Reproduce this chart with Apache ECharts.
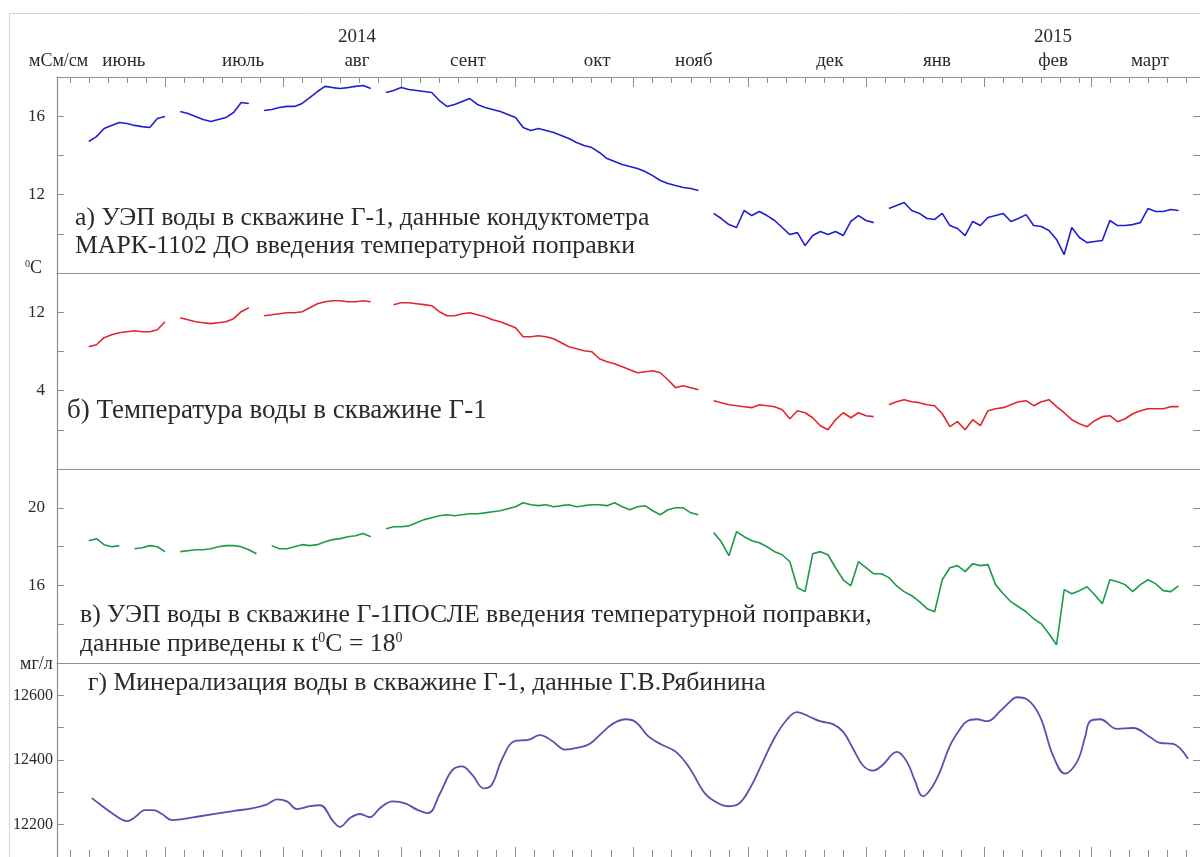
<!DOCTYPE html>
<html>
<head>
<meta charset="utf-8">
<title>Скважина Г-1</title>
<style>
  html, body { margin: 0; padding: 0; background: #fff; }
  #chart { width: 1200px; height: 857px; }
</style>
<script src="https://cdn.jsdelivr.net/npm/echarts@6/dist/echarts.min.js"></script>
</head>
<body>
<div id="chart"></div>
<script>
// x = days since 1 June 2014
const days = [10,12,14,16,18,20,22,24,26,28,30,32,34,36,38,40,42,44,46,48,50,52,54,56,58,60,62,64,66,68,70,72,74,76,78,80,82,84,86,88,90,92,94,96,98,100,102,104,106,108,110,112,114,116,118,120,122,124,126,128,130,132,134,136,138,140,142,144,146,148,150,152,154,156,158,160,162,164,166,168,170,172,174,176,178,180,182,184,186,188,190,192,194,196,198,200,202,204,206,208,210,212,214,216,218,220,222,224,226,228,230,232,234,236,238,240,242,244,246,248,250,252,254,256,258,260,262,264,266,268,270,272,274,276,278,280,282,284,286,288,290,292,294,296];

// а) УЭП, мСм/см (before temperature correction)
const conductivityRaw = [14.71,14.96,15.37,15.53,15.68,15.63,15.53,15.47,15.42,15.88,15.98,null,16.24,16.14,15.98,15.83,15.73,15.83,15.93,16.19,16.70,16.65,null,16.29,16.34,16.44,16.50,16.50,16.65,16.95,17.26,17.52,17.46,17.41,17.46,17.52,17.57,17.41,null,17.21,17.31,17.46,17.36,17.31,17.26,17.21,16.80,16.50,16.60,16.75,16.90,16.60,16.44,16.34,16.24,16.09,15.93,15.42,15.27,15.37,15.27,15.17,15.02,14.86,14.66,14.51,14.40,14.15,13.84,13.69,13.54,13.43,13.33,13.18,12.97,12.72,12.57,12.46,12.36,12.31,12.21,null,11.04,10.78,10.47,10.32,11.19,10.93,11.14,10.93,10.68,10.32,9.96,10.06,9.40,9.91,10.12,9.96,10.12,9.91,10.63,10.93,10.68,10.57,null,11.29,11.44,11.60,11.19,11.04,10.78,10.73,11.04,10.42,10.27,9.91,10.63,10.42,10.83,10.93,11.04,10.63,10.78,10.98,10.42,10.37,10.17,9.71,8.94,10.32,9.81,9.55,9.61,9.66,10.68,10.42,10.42,10.47,10.57,11.29,11.14,11.14,11.24,11.19];

// б) temperature, °C
const temperature = [8.48,8.68,9.40,9.70,9.91,10.01,10.11,10.01,10.01,10.21,11.03,null,11.44,11.23,11.03,10.93,10.83,10.93,11.03,11.34,12.05,12.46,null,11.64,11.74,11.85,11.95,11.95,12.05,12.46,12.87,13.07,13.17,13.17,13.07,13.07,13.17,13.07,null,null,12.77,12.97,12.97,12.87,12.77,12.66,12.05,11.64,11.64,11.85,11.95,11.74,11.54,11.23,11.03,10.72,10.42,9.50,9.50,9.60,9.50,9.29,8.89,8.48,8.27,8.07,7.97,7.25,6.95,6.74,6.44,6.13,5.82,5.93,6.03,5.82,5.11,4.30,4.50,4.30,4.09,null,2.97,2.77,2.56,2.46,2.36,2.26,2.56,2.46,2.36,2.05,1.13,1.95,1.74,1.23,0.42,0.01,1.03,1.74,1.23,1.74,1.44,1.34,null,2.56,2.87,3.07,2.87,2.77,2.56,2.46,1.64,0.32,0.83,0.01,1.03,0.42,1.95,2.15,2.26,2.56,2.87,2.97,2.46,2.87,3.07,2.36,1.74,1.03,0.62,0.32,0.93,1.34,1.44,0.83,1.13,1.64,1.95,2.15,2.15,2.15,2.36,2.36];

// в) УЭП reduced to 18 °C
const conductivity18 = [18.30,18.41,18.10,17.99,18.05,null,17.89,17.94,18.05,17.99,17.74,null,17.74,17.79,17.84,17.84,17.89,17.99,18.05,18.05,17.99,17.84,17.63,null,18.05,17.89,17.89,17.99,18.10,18.05,18.10,18.25,18.36,18.41,18.51,18.56,18.67,18.51,null,18.92,19.02,19.02,19.07,19.23,19.39,19.49,19.59,19.64,19.59,19.64,19.69,19.69,19.74,19.80,19.85,19.95,20.05,20.26,20.16,20.11,20.16,20.05,20.11,20.16,20.05,20.11,20.16,20.16,20.11,20.26,20.05,19.90,20.05,20.11,19.85,19.64,19.90,20.00,20.00,19.74,19.64,null,18.72,18.25,17.53,18.77,18.51,18.30,18.20,17.99,17.74,17.58,17.22,15.88,15.68,17.63,17.74,17.58,16.91,16.29,15.98,17.22,16.91,16.60,16.60,16.40,15.98,15.68,15.47,15.16,14.80,14.64,16.29,16.91,17.02,16.71,17.12,17.02,17.07,16.04,15.57,15.16,14.90,14.64,14.28,14.02,13.51,12.94,15.78,15.57,15.73,15.93,15.52,15.06,16.29,16.19,16.04,15.68,16.04,16.29,16.09,15.73,15.68,15.98];

// г) mineralisation, мг/л
const mineralDays = [10.8,12.9,16.4,20.0,22.1,24.8,26.9,29.2,31.8,34.5,39.2,47.8,53.1,56.8,59.4,62.0,64.6,68.1,70.7,74.1,75.9,78.5,81.2,83.8,86.4,89.8,93.0,96.4,99.0,102.2,105.3,107.9,110.6,113.7,115.8,118.5,121.9,125.3,128.4,131.6,135.0,138.4,141.5,144.7,147.8,151.0,153.6,156.8,160.4,164.1,167.8,171.7,175.7,177.8,180.4,183.5,186.7,190.1,193.3,195.9,199.3,201.9,205.3,208.0,210.6,213.2,215.8,218.2,222.1,224.7,226.8,228.9,231.1,233.4,236.0,238.7,240.5,243.1,245.8,249.2,251.3,253.6,256.2,259.6,263.1,266.2,269.4,271.5,272.8,275.4,279.9,284.1,288.5,291.1,294.6,296.5,298.5];
const mineral = [12282,12263,12233,12211,12223,12245,12245,12233,12214,12217,12226,12242,12251,12263,12278,12272,12248,12257,12260,12211,12193,12220,12233,12223,12251,12272,12266,12245,12236,12297,12367,12380,12355,12312,12324,12404,12459,12462,12477,12459,12432,12438,12450,12484,12514,12526,12517,12474,12447,12425,12373,12297,12263,12257,12263,12312,12389,12471,12526,12548,12533,12520,12511,12487,12435,12383,12367,12383,12425,12395,12337,12288,12312,12364,12444,12496,12520,12526,12520,12551,12575,12594,12588,12536,12413,12358,12395,12471,12520,12526,12496,12499,12471,12453,12450,12435,12404];

// time axis: month starts (major ticks), 5-day ticks, labels
const monthStarts = [30, 61, 92, 122, 153, 183, 214, 245, 273];
const fiveDayTicks = [5,10,15,20,25, 35,40,45,50,55, 66,71,76,81,86, 97,102,107,112,117, 127,132,137,142,147, 158,163,168,173,178, 188,193,198,203,208, 219,224,229,234,239, 250,255,260,265,270, 278,283,288,293,298];
const monthLabelDays = [19.2, 50.5, 80.4, 109.5, 143.4, 168.8, 204.5, 232.6, 263.1, 288.5];
const monthNames = ['июнь', 'июль', 'авг', 'сент', 'окт', 'нояб', 'дек', 'янв', 'фев', 'март'];
const yearNames = ['', '', '2014', '', '', '', '', '', '2015', ''];

const FONT = '"Liberation Serif", "Times New Roman", serif';
const GRAY = '#8e8e8e';
const INK = '#2a2a2a';
const X_MIN = 1.65;
const X_MAX = 301.65;

const panels = [
    { top: 77,  height: 196, min: 8,     max: 18,    ticks: [10, 12, 14, 16], labels: [12, 16], fontSize: 17, margin: 12,
      color: '#1f1fcf', data: days.map((d, i) => [d, conductivityRaw[i]]) },
    { top: 273, height: 196, min: -4,    max: 16,    ticks: [0, 4, 8, 12],    labels: [4, 12],  fontSize: 17, margin: 12,
      color: '#e2262d', data: days.map((d, i) => [d, temperature[i]]) },
    { top: 469, height: 194, min: 12,    max: 22,    ticks: [14, 16, 18, 20], labels: [16, 20], fontSize: 17, margin: 12,
      color: '#1c9a48', data: days.map((d, i) => [d, conductivity18[i]]) },
    { top: 663, height: 196, min: 12100, max: 12700, ticks: [12200, 12300, 12400, 12500, 12600], labels: [12200, 12400, 12600], fontSize: 16, margin: 4,
      color: '#5a4fb0', data: mineralDays.map((d, i) => [d, mineral[i]]), smooth: true }
];

function nearestIndex(arr, v) {
    let best = 0;
    arr.forEach((a, i) => { if (Math.abs(a - v) < Math.abs(arr[best] - v)) best = i; });
    return best;
}

function xAxisBase(gridIndex, position) {
    return {
        type: 'value', gridIndex: gridIndex, position: position, min: X_MIN, max: X_MAX,
        axisLine: { show: false, onZero: false, lineStyle: { color: GRAY, width: 1.2 } },
        axisTick: { show: false },
        axisLabel: { show: false },
        splitLine: { show: false }
    };
}

function buildXAxes() {
    const top = xAxisBase(0, 'top');
    top.axisLine.show = true;
    top.axisTick = { show: true, inside: true, length: 10, customValues: monthStarts, lineStyle: { color: GRAY } };
    top.axisLabel = {
        show: true,
        margin: 5,
        customValues: monthLabelDays,
        formatter: (v) => {
            const i = nearestIndex(monthLabelDays, v);
            const month = '{m|' + monthNames[i] + '}';
            return yearNames[i] ? '{y|' + yearNames[i] + '}\n' + month : month;
        },
        rich: {
            m: { fontFamily: FONT, fontSize: 19, color: INK, lineHeight: 22 },
            y: { fontFamily: FONT, fontSize: 19, color: INK, lineHeight: 26 }
        }
    };

    const topMinor = xAxisBase(0, 'top');
    topMinor.axisTick = { show: true, inside: true, length: 6, customValues: fiveDayTicks, lineStyle: { color: GRAY } };

    // separators between the panels
    const separators = [0, 1, 2].map(g => {
        const ax = xAxisBase(g, 'bottom');
        ax.axisLine.show = true;
        return ax;
    });

    const bottom = xAxisBase(3, 'bottom');
    bottom.axisTick = { show: true, inside: true, length: 10, customValues: monthStarts, lineStyle: { color: GRAY } };
    const bottomMinor = xAxisBase(3, 'bottom');
    bottomMinor.axisTick = { show: true, inside: true, length: 7, customValues: fiveDayTicks, lineStyle: { color: GRAY } };

    return [top, topMinor].concat(separators, [bottom, bottomMinor]);
}

function buildYAxes() {
    const axes = [];
    panels.forEach((p, g) => {
        axes.push({
            type: 'value', gridIndex: g, position: 'left', min: p.min, max: p.max,
            axisLine: { show: true, onZero: false, lineStyle: { color: GRAY, width: 1.2 } },
            axisTick: { show: true, inside: true, length: 7, customValues: p.ticks, lineStyle: { color: GRAY } },
            axisLabel: { customValues: p.labels, formatter: (v) => String(v), fontFamily: FONT, fontSize: p.fontSize, color: INK, margin: p.margin },
            splitLine: { show: false }
        });
        axes.push({
            type: 'value', gridIndex: g, position: 'right', min: p.min, max: p.max,
            axisLine: { show: false, onZero: false },
            axisTick: { show: true, inside: true, length: 7, customValues: p.ticks, lineStyle: { color: GRAY } },
            axisLabel: { show: false },
            splitLine: { show: false }
        });
    });
    return axes;
}

// plain text block; {s|..} marks a small raised degree sign
function text(x, y, str, size) {
    return {
        type: 'text', x: x, y: y, silent: true,
        style: {
            text: str, fill: INK, font: size + 'px ' + FONT, verticalAlign: 'middle',
            rich: { s: { fontFamily: FONT, fontSize: Math.round(size * 0.55), fill: INK, verticalAlign: 'top', lineHeight: size } }
        }
    };
}

const chart = echarts.init(document.getElementById('chart'), null, { renderer: 'canvas' });

chart.setOption({
    animation: false,
    backgroundColor: '#ffffff',
    grid: panels.map(p => ({ left: 57, right: 0, top: p.top, height: p.height })),
    xAxis: buildXAxes(),
    yAxis: buildYAxes(),
    series: panels.map((p, g) => ({
        type: 'line',
        xAxisIndex: [2, 3, 4, 5][g],
        yAxisIndex: g * 2,
        data: p.data.map(pt => [pt[0], pt[1] === null ? '-' : pt[1]]),
        showSymbol: false,
        connectNulls: false,
        smooth: p.smooth ? 0.4 : false,
        lineStyle: { color: p.color, width: p.smooth ? 1.8 : 1.6 },
        silent: true
    })),
    graphic: [
        { type: 'line', silent: true, shape: { x1: 9.5, y1: 13.5, x2: 1200, y2: 13.5 }, style: { stroke: '#d4d4d4', lineWidth: 1 } },
        { type: 'line', silent: true, shape: { x1: 9.5, y1: 13.5, x2: 9.5, y2: 857 }, style: { stroke: '#d4d4d4', lineWidth: 1 } },
        text(29, 61, 'мСм/см', 18),
        text(25, 268, '{s|0}C', 18),
        text(20, 664, 'мг/л', 18),
        text(75, 218, 'а) УЭП воды в скважине Г-1, данные кондуктометра', 25.7),
        text(75, 246, 'МАРК-1102 ДО введения температурной поправки', 25.7),
        text(67, 411, 'б) Температура воды в скважине Г-1', 27),
        text(80, 615, 'в) УЭП воды в скважине Г-1ПОСЛЕ введения температурной поправки,', 25.7),
        text(80, 644, 'данные приведены к t{s|0}C = 18{s|0}', 25.7),
        text(88, 683, 'г) Минерализация воды в скважине Г-1, данные Г.В.Рябинина', 25.7)
    ]
});
</script>
</body>
</html>
